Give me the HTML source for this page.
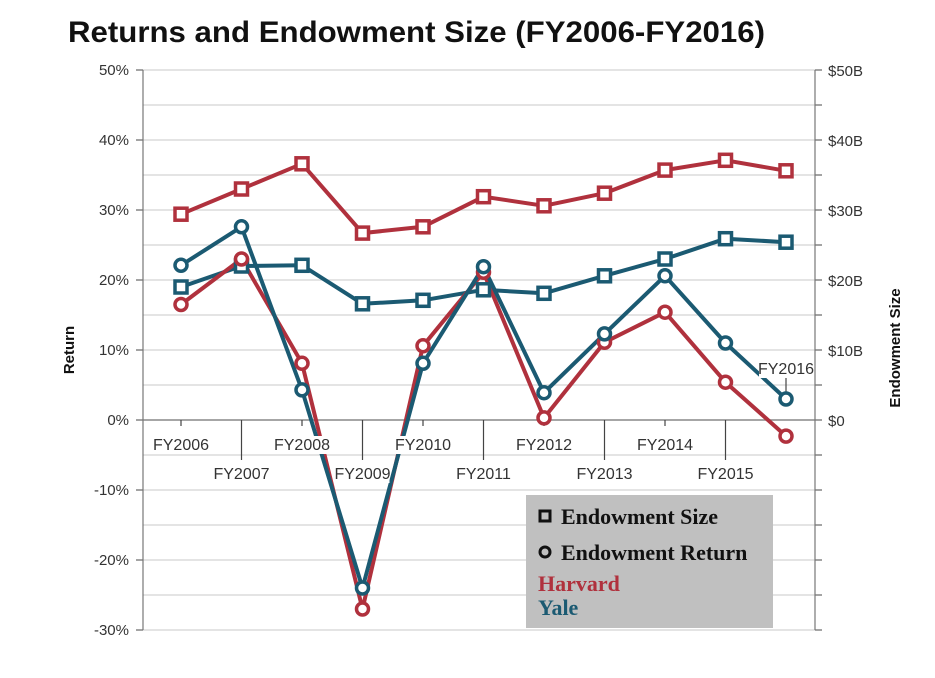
<!DOCTYPE html>
<html><head><meta charset="utf-8"><style>
body{margin:0;background:#fff;width:935px;height:678px;overflow:hidden}
svg{display:block}
</style></head><body>
<svg id="c" width="935" height="678" font-family="Liberation Sans, sans-serif">
<text x="68" y="42" font-size="30" font-weight="bold" fill="#111" textLength="697" lengthAdjust="spacingAndGlyphs">Returns and Endowment Size (FY2006-FY2016)</text>
<text transform="translate(74,350) rotate(-90)" text-anchor="middle" font-size="15" font-weight="bold" fill="#111">Return</text>
<text transform="translate(900,348) rotate(-90)" text-anchor="middle" font-size="15" font-weight="bold" fill="#111">Endowment Size</text>
<g id="grid"></g><g id="lines"></g><g id="labels"></g><g id="marks"></g>
<g>
<rect x="526" y="495" width="247" height="133" fill="#c0c0c0"/>
<rect x="540" y="511" width="10" height="10" fill="none" stroke="#111" stroke-width="3"/>
<circle cx="545" cy="552" r="5" fill="none" stroke="#111" stroke-width="3"/>
<g font-family="Liberation Serif, serif" font-weight="bold" font-size="22">
<text x="561" y="524" fill="#111">Endowment Size</text>
<text x="561" y="560" fill="#111">Endowment Return</text>
<text x="538" y="591" fill="#b0313d">Harvard</text>
<text x="538" y="615" fill="#1b5a72">Yale</text>
</g></g>
</svg>
<script>
const years=["FY2006","FY2007","FY2008","FY2009","FY2010","FY2011","FY2012","FY2013","FY2014","FY2015","FY2016"];
const harvardSize=[29.4,33.0,36.6,26.7,27.6,31.9,30.6,32.4,35.7,37.1,35.6];
const yaleSize=[19.0,22.0,22.1,16.6,17.1,18.6,18.1,20.6,23.0,25.9,25.4];
const harvardReturn=[16.5,23.0,8.1,-27.0,10.6,21.1,0.3,11.1,15.4,5.4,-2.3];
const yaleReturn=[22.1,27.6,4.3,-24.0,8.1,21.9,3.9,12.3,20.6,11.0,3.0];
const leftTicks=["50%","40%","30%","20%","10%","0%","-10%","-20%","-30%"];
const rightTicks=["$50B","$40B","$30B","$20B","$10B","$0"];
const NS="http://www.w3.org/2000/svg";
const X0=143,X1=815,Y0=420,PX=7;
const x=i=>181+i*60.5;
const yR=v=>Y0-v*PX;
const yS=v=>Y0-v*PX;
function mk(t,a,p){const e=document.createElementNS(NS,t);for(const k in a)e.setAttribute(k,a[k]);p.appendChild(e);return e;}
const g=document.getElementById('grid'),L=document.getElementById('lines'),lb=document.getElementById('labels'),M=document.getElementById('marks');
for(let v=-30;v<=50;v+=5){const y=yR(v);
 const l=mk('line',{x1:X0,x2:X1,y1:y,y2:y,stroke:v===0?'#888':'#d4d4d4','stroke-width':v===0?1.5:1.2},g);
 
 const t=mk('line',{x1:X1,x2:X1+7,y1:y,y2:y,stroke:'#666','stroke-width':1.2},g);
 
 if(v%10===0){const t2=mk('line',{x1:X0-7,x2:X0,y1:y,y2:y,stroke:'#666','stroke-width':1.2},g);
  }
}
mk('line',{x1:X0,x2:X0,y1:yR(50),y2:yR(-30),stroke:'#777','stroke-width':1.2},g);
mk('line',{x1:X1,x2:X1,y1:yR(50),y2:yR(-30),stroke:'#777','stroke-width':1.2},g);
leftTicks.forEach((s,i)=>{const t=mk('text',{x:X0-14,y:yR(50-i*10)+5,'text-anchor':'end','font-size':15,fill:'#333'},g);t.textContent=s;
 });
rightTicks.forEach((s,i)=>{const t=mk('text',{x:X1+13,y:yS(50-i*10)+6,'font-size':15,fill:'#333'},g);t.textContent=s;
 });
function series(arr,yf,col,name){
 const p=mk('polyline',{points:arr.map((v,i)=>x(i)+','+yf(v)).join(' '),fill:'none',stroke:col,'stroke-width':4,'stroke-linejoin':'round'},L);
 
}
series(harvardSize,yS,'#b0313d','harvard-size');series(yaleSize,yS,'#1b5a72','yale-size');
series(harvardReturn,yR,'#b0313d','harvard-return');series(yaleReturn,yR,'#1b5a72','yale-return');
years.forEach((s,i)=>{const cx=x(i);let ty,t1,t2;
 if(i===10){t1=378;t2=398;ty=374;}else if(i%2===0){t1=Y0;t2=Y0+6;ty=Y0+30;}else{t1=Y0;t2=Y0+40;ty=Y0+59;}
 const tk=mk('line',{x1:cx,x2:cx,y1:t1,y2:t2,stroke:'#444','stroke-width':1.2},lb);
 
 const w=s.length*9;
 const r=mk('rect',{x:cx-w/2,y:ty-14,width:w,height:18,fill:'#fff'},lb);
 
 const t=mk('text',{x:cx,y:ty,'text-anchor':'middle','font-size':16,fill:'#333'},lb);t.textContent=s;
 
});
function sq(arr,col,name){arr.forEach((v,i)=>{const r=mk('rect',{x:x(i)-6,y:yS(v)-6,width:12,height:12,fill:'#fff',stroke:col,'stroke-width':3.5},M);
 });}
function ci(arr,col,name){arr.forEach((v,i)=>{const c=mk('circle',{cx:x(i),cy:yR(v),r:6,fill:'#fff',stroke:col,'stroke-width':3.5},M);
 });}
sq(harvardSize,'#b0313d','harvard-size-point');sq(yaleSize,'#1b5a72','yale-size-point');
ci(harvardReturn,'#b0313d','harvard-return-point');ci(yaleReturn,'#1b5a72','yale-return-point');
</script>
</body></html>
